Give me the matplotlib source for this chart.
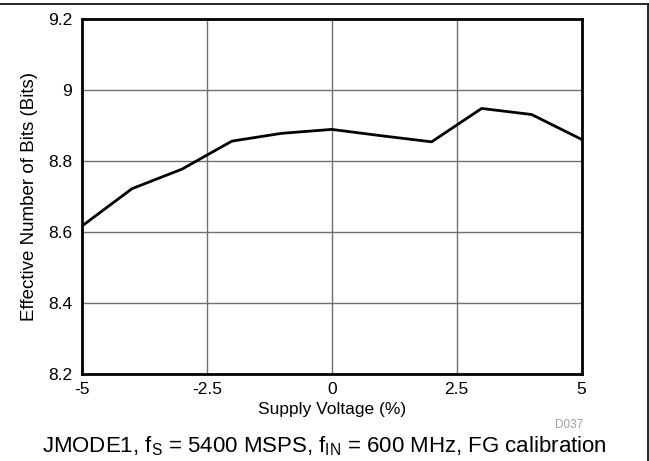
import numpy as np
import matplotlib.pyplot as plt
from matplotlib.lines import Line2D

plt.rcParams['font.family'] = ['Liberation Sans', 'DejaVu Sans']
plt.rcParams['mathtext.default'] = 'regular'

# data
supply_pct = [-5, -4, -3, -2, -1, 0, 1, 2, 3, 4, 5]
enob_bits = [8.617, 8.722, 8.777, 8.856, 8.878, 8.889, 8.871, 8.854, 8.948, 8.931, 8.861]

x_ticks = [-5, -2.5, 0, 2.5, 5]
x_tick_labels = ["-5", "-2.5", "0", "2.5", "5"]
y_ticks = [8.2, 8.4, 8.6, 8.8, 9.0, 9.2]
y_tick_labels = ["8.2", "8.4", "8.6", "8.8", "9", "9.2"]

caption = "JMODE1, f$_S$ = 5400 MSPS, f$_{IN}$ = 600 MHz, FG calibration"

fig = plt.figure(figsize=(6.49, 4.61), dpi=100)
ax = fig.add_axes([0.1264, 0.1887, 0.7696, 0.7701])

ax.plot(supply_pct, enob_bits, color="black", lw=2.0, zorder=3)

ax.set_xlim(-5, 5)
ax.set_ylim(8.2, 9.2)
ax.set_xticks(x_ticks)
ax.set_xticklabels(x_tick_labels)
ax.set_yticks(y_ticks)
ax.set_yticklabels(y_tick_labels)
ax.tick_params(axis="x", length=0, labelsize=12.5, pad=6)
ax.tick_params(axis="y", length=0, labelsize=12.5, pad=7)
ax.grid(True, color="#707070", lw=1.0)
for sp in ax.spines.values():
    sp.set_linewidth(2.0)
    sp.set_zorder(4)

ax.set_xlabel("Supply Voltage (%)", fontsize=12.5, labelpad=3)
ax.set_ylabel("Effective Number of Bits (Bits)", fontsize=13.5, labelpad=7)

fig.text(583 / 649, 1 - 425 / 461, "D037", ha="right", va="center",
         fontsize=8.5, color="#a0a0a0")
fig.text(324 / 649, 1 - 446 / 461, caption, ha="center", va="center", fontsize=16)

# outer frame lines (top and right only)
fig.add_artist(Line2D([0, 647.5 / 649], [1 - 4.5 / 461, 1 - 4.5 / 461],
                      transform=fig.transFigure, color="black", lw=1.2))
fig.add_artist(Line2D([647.5 / 649, 647.5 / 649], [0, 1 - 4.5 / 461],
                      transform=fig.transFigure, color="black", lw=1.2))

fig.savefig("out.png", dpi=100)
